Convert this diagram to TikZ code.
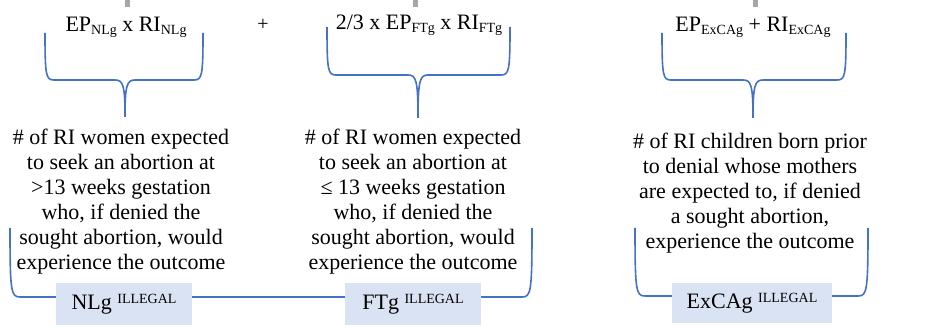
\documentclass[tikz,border=0pt]{standalone}
\usepackage{fontspec}
\setmainfont{Liberation Serif}
\definecolor{braceblue}{HTML}{4472C4}
\definecolor{labelfill}{HTML}{DAE3F3}
\definecolor{tickgray}{HTML}{A6A6A6}
\newcommand{\bodyfont}{\fontsize{22}{25}\selectfont}
\newcommand{\lowtext}[1]{\raisebox{-0.3ex}{\fontsize{14}{14}\selectfont #1}}
\newcommand{\uptext}[1]{\raisebox{0.55ex}{\fontsize{14}{14}\selectfont #1}}
\begin{document}
\begin{tikzpicture}
[x=1pt,y=-1pt,
  formuladecorate/.style={inner sep=0pt,font=\bodyfont},%
  textdecorate/.style={inner sep=0pt,align=center,font=\bodyfont},%
  labeldecorate/.style={fill=labelfill,inner sep=0pt,minimum width=136pt,minimum height=42pt,font=\bodyfont},%
  bracedecorate/.style={draw=braceblue,line width=1.6pt}]
\useasboundingbox (0,0) rectangle (941,328);
%% gray ticks at the top
\foreach \tx in {125,413,753} {
  \fill[tickgray] (\tx,0) rectangle +(5,7);
}
%% formulas
\node (fNLg) at (126,27) [formuladecorate] {EP\lowtext{NLg} x RI\lowtext{NLg}};
\node (plus) at (263,25) [formuladecorate] {\fontsize{20}{20}\selectfont +};
\node (fFTg) at (419,25) [formuladecorate] {2/3 x EP\lowtext{FTg} x RI\lowtext{FTg}};
\node (fExCAg) at (753,27) [formuladecorate] {EP\lowtext{ExCAg} + RI\lowtext{ExCAg}};
%% top braces: left/stem/right/top/bar/tip
\foreach \l/\s/\r/\t/\b/\p in {
  45/125/203/33/80/117, 327/418/510/27/75/118, 662/753/846/33/80/118} {
  \draw[bracedecorate] (\l,\t) .. controls (\l,\b-4) and (\l+1,\b) .. (\l+9,\b)
    -- (\s-10,\b) .. controls (\s-2,\b) and (\s,\b+5) .. (\s,\p)
    .. controls (\s,\b+5) and (\s+2,\b) .. (\s+10,\b)
    -- (\r-9,\b) .. controls (\r-1,\b) and (\r,\b-4) .. (\r,\t);
}
%% descriptions
\node (tNLg) at (121,202) [textdecorate] {\# of RI women expected\\ to seek an abortion at\\ >13 weeks gestation\\ who, if denied the\\ sought abortion, would\\ experience the outcome};
\node (tFTg) at (413,202) [textdecorate] {\# of RI women expected\\ to seek an abortion at\\ ≤ 13 weeks gestation\\ who, if denied the\\ sought abortion, would\\ experience the outcome};
\node (tExCAg) at (750,193) [textdecorate] {\# of RI children born prior\\ to denial whose mothers\\ are expected to, if denied\\ a sought abortion,\\ experience the outcome};
%% bottom brackets: left/right/top/bar
\foreach \l/\r/\t/\b in {10/532/228/297, 635/868/228/296} {
  \draw[bracedecorate] (\l,\t) .. controls (\l,\b-5) and (\l+1,\b) .. (\l+10,\b)
    -- (\r-10,\b) .. controls (\r-1,\b) and (\r,\b-5) .. (\r,\t);
}
%% labels
\node (lNLg) at (124,304) [labeldecorate] {NLg \uptext{ILLEGAL}};
\node (lFTg) at (413,304) [labeldecorate] {FTg \uptext{ILLEGAL}};
\node (lExCAg) at (752,303) [labeldecorate,minimum width=160pt,minimum height=40pt] {ExCAg \uptext{ILLEGAL}};
\end{tikzpicture}
\end{document}
